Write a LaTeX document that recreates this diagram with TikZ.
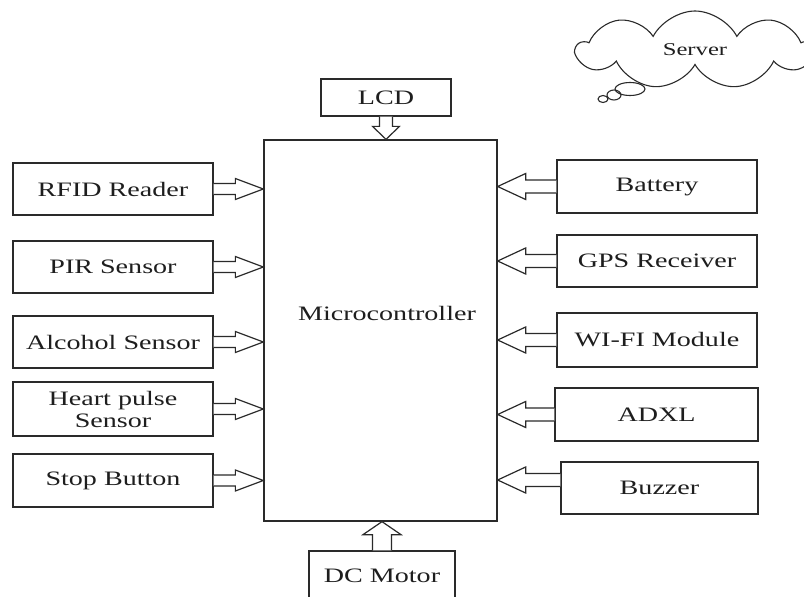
\documentclass[tikz,border=0pt]{standalone}
\usepackage{fontspec}
\setmainfont{Liberation Serif}[FakeStretch=1.37]
\usepackage{tikz}
\usetikzlibrary{calc,shapes.symbols,shapes.geometric}
\definecolor{ink}{HTML}{1E1E1E}
\definecolor{edge}{HTML}{2A2A2A}

% hollow block arrow: from, to, shaft half width, head half width, head length
\newcommand{\blockarr}[5]{%
  \draw[harr] let \p1=(#1), \p2=(#2), \n1={atan2(\y2-\y1,\x2-\x1)}, \n2={veclen(\x2-\x1,\y2-\y1)} in
    [shift={(\p2)}, rotate=\n1]
    (-\n2,-#3) -- (-#5,-#3) -- (-#5,-#4) -- (0,0) -- (-#5,#4) -- (-#5,#3) -- (-\n2,#3);}

\begin{document}
\begin{tikzpicture}[x=1pt, y=-1pt,
  box/.style={draw=edge, line width=1.3pt, fill=white, align=center, text=ink, inner sep=2pt,
    font={\fontsize{20.5}{22}\selectfont}},
  lbox/.style={box, minimum width=200pt, minimum height=52pt},
  harr/.style={draw=edge, line width=1.2pt, line join=miter, fill=white},
  bubble/.style={draw=edge, line width=1.1pt, ellipse, inner sep=0pt},
]
\useasboundingbox (0,0) rectangle (804,597);
\clip (0,0) rectangle (804,597);

% controller and top/bottom blocks
\node[box, minimum width=233pt, minimum height=381pt] (mcu) at (380.5,330.5) {};
\node[text=ink, font={\fontsize{20.5}{22}\selectfont}] (mcutxt) at (387,313) {Microcontroller};
\node[box, minimum width=130pt, minimum height=37pt] (lcd) at (386,97.5) {LCD};
\node[box, minimum width=146pt, minimum height=49pt] (dc) at (382,575.5) {DC Motor};

% inputs on the left
\node[lbox] (rfid) at (113,189) {RFID Reader};
\node[lbox] (pir) at (113,267) {PIR Sensor};
\node[lbox] (alc) at (113,342) {Alcohol Sensor};
\node[lbox, minimum height=54pt] (heart) at (113,409) {Heart pulse\\Sensor};
\node[lbox, minimum height=53pt] (stop) at (113,480.5) {Stop Button};

% modules on the right
\node[lbox, minimum height=53pt] (bat) at (657,186.5) {Battery};
\node[lbox] (gps) at (657,261) {GPS Receiver};
\node[lbox, minimum height=54pt] (wifi) at (657,340) {WI-FI Module};
\node[lbox, minimum width=203pt, minimum height=53pt] (adxl) at (656.5,414.5) {ADXL};
\node[lbox, minimum width=197pt] (buzz) at (659.5,488) {Buzzer};

% server cloud
\node[cloud, draw=edge, line width=1.1pt, cloud puffs=9, cloud puff arc=125, cloud ignores aspect,
  minimum width=236pt, minimum height=78pt, text=ink, font={\fontsize{18}{20}\selectfont}] (server) at (695,50) {Server};
\node[bubble, minimum width=30pt, minimum height=13pt] (bub1) at (630,89) {};
\node[bubble, minimum width=14pt, minimum height=10pt] (bub2) at (614,95) {};
\node[bubble, minimum width=10pt, minimum height=7pt] (bub3) at (603,99) {};

% arrows
\blockarr{lcd.south}{lcd.south |- mcu.north}{6.5}{13.5}{13}
\blockarr{dc.north}{dc.north |- mcu.south}{9.5}{19}{13}
\foreach \src in {rfid,pir,alc,heart,stop}
  \blockarr{\src.east}{\src.east -| mcu.west}{5.5}{10.5}{28};
\foreach \src in {bat,gps,wifi,adxl}
  \blockarr{\src.west}{\src.west -| mcu.east}{6.5}{13}{28};
\blockarr{[yshift=8pt]buzz.west}{[yshift=8pt]buzz.west -| mcu.east}{6.5}{13}{28}
\end{tikzpicture}
\end{document}
